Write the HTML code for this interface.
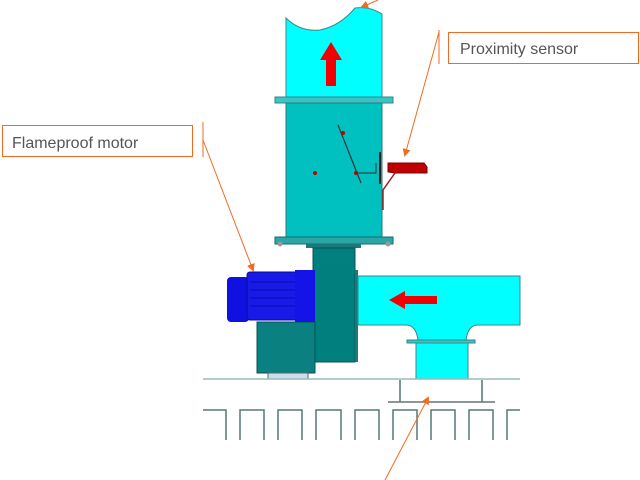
<!DOCTYPE html>
<html><head><style>body{margin:0;background:#fff}svg{display:block}</style></head><body>
<svg width="640" height="480" xmlns="http://www.w3.org/2000/svg" font-family="Liberation Sans, sans-serif">
<defs><marker id="a" markerWidth="8" markerHeight="8" refX="6" refY="4" orient="auto" markerUnits="userSpaceOnUse"><path d="M0,0 L8,4 L0,8z" fill="#f26a21"/></marker></defs>
<!-- upper pipe -->
<path d="M286,18 Q300,32 320,30 Q340,26 355,8 Q370,6 382,14 L382,97 L286,97Z" fill="#00ffff" stroke="#3a8a8a"/>
<rect x="275" y="97" width="118" height="6" fill="#3cc4c4" stroke="#2a8a8a"/>
<rect x="286" y="103" width="96" height="134" fill="#00c0c0" stroke="#2a7a7a"/>
<path d="M326,86 L326,60 L320,60 L331,42 L342,60 L336,60 L336,86Z" fill="#f00000"/>
<line x1="338" y1="125" x2="361" y2="183" stroke="#333" stroke-width="1.2"/>
<circle cx="315" cy="173" r="2" fill="#b00"/><circle cx="356" cy="173" r="2" fill="#b00"/><circle cx="343" cy="133" r="2" fill="#b00"/>
<path d="M356,173 L376,173 L376,163" stroke="#333" fill="none"/>
<line x1="380" y1="152" x2="380" y2="184" stroke="#222" stroke-width="2"/>
<path d="M388,163 L424,163 L427,167 L427,173 L395,173 L388,172Z" fill="#c00000" stroke="#700"/>
<path d="M395,173 L383,190 L383,210" stroke="#922" stroke-width="1.5" fill="none"/>
<rect x="275" y="237" width="118" height="7" fill="#2aa6a6" stroke="#1a6a6a"/>
<circle cx="280" cy="244" r="2.5" fill="#999"/><circle cx="388" cy="244" r="2.5" fill="#999"/>
<rect x="306" y="244" width="55" height="4" fill="#1a7a7a"/>
<!-- fan housing -->
<rect x="313" y="248" width="42" height="114" fill="#007f7f" stroke="#0b5050"/>
<rect x="355" y="270" width="3" height="92" fill="#1a7a7a"/>
<!-- motor base -->
<rect x="257" y="322" width="58" height="51" fill="#0a8080" stroke="#0b5050"/>
<!-- motor -->
<rect x="227" y="277" width="22" height="45" rx="4" fill="#1010e0"/>
<rect x="247" y="272" width="58" height="48" rx="3" fill="#1a1ae8" stroke="#0808a0"/>
<g stroke="#0a0ab0"><line x1="250" y1="282" x2="300" y2="282"/><line x1="250" y1="290" x2="300" y2="290"/><line x1="250" y1="298" x2="300" y2="298"/><line x1="250" y1="306" x2="300" y2="306"/></g>
<rect x="295" y="270" width="20" height="52" fill="#1414e8"/>
<!-- duct -->
<path d="M358,276 L520,276 L520,325 L478,325 Q468,325 466,340 L418,340 Q416,325 406,325 L358,325Z" fill="#00ffff" stroke="#3a8a8a"/>
<rect x="407" y="340" width="68" height="3" fill="#3cc4c4" stroke="#2a8a8a"/>
<rect x="416" y="343" width="52" height="36" fill="#00ffff" stroke="#3a8a8a"/>
<path d="M437,296 L405,296 L405,291 L389,300 L405,309 L405,304 L437,304Z" fill="#f00000"/>
<!-- ground -->
<rect x="268" y="373" width="40" height="6" fill="#cde" stroke="#566"/>
<line x1="203" y1="379" x2="520" y2="379" stroke="#9bb" stroke-width="1.5"/>
<line x1="400" y1="380" x2="400" y2="402" stroke="#799" stroke-width="2"/>
<line x1="482" y1="380" x2="482" y2="402" stroke="#799" stroke-width="2"/>
<line x1="388" y1="402" x2="495" y2="402" stroke="#677" stroke-width="1.5"/>
<g fill="none" stroke="#577" stroke-width="1.5">
<path d="M203,410 L226,410 L226,440"/>
<path d="M240,440 L240,410 L264,410 L264,440"/>
<path d="M278,440 L278,410 L302,410 L302,440"/>
<path d="M316,440 L316,410 L341,410 L341,440"/>
<path d="M355,440 L355,410 L379,410 L379,440"/>
<path d="M393,440 L393,410 L417,410 L417,440"/>
<path d="M431,440 L431,410 L455,410 L455,440"/>
<path d="M469,440 L469,410 L493,410 L493,440"/>
<path d="M507,440 L507,410 L520,410"/>
</g>
<!-- labels -->
<rect x="2.5" y="125.5" width="190" height="31" fill="#fff" stroke="#f26a21"/>
<text x="12" y="148" font-size="16" fill="#555">Flameproof motor</text>
<rect x="448.5" y="32.5" width="190" height="31" fill="#fff" stroke="#f26a21"/>
<text x="460" y="54" font-size="16" fill="#555">Proximity sensor</text>
<g stroke="#f26a21" stroke-width="1">
<line x1="203" y1="122" x2="203" y2="157"/>
<line x1="203" y1="140" x2="253" y2="270" marker-end="url(#a)"/>
<line x1="439" y1="30" x2="439" y2="64"/>
<line x1="439" y1="32" x2="405" y2="155" marker-end="url(#a)"/>
<line x1="378" y1="0" x2="362" y2="7" marker-end="url(#a)"/>
<line x1="385" y1="480" x2="428" y2="398" marker-end="url(#a)"/>
</g>
</svg>
</body></html>
